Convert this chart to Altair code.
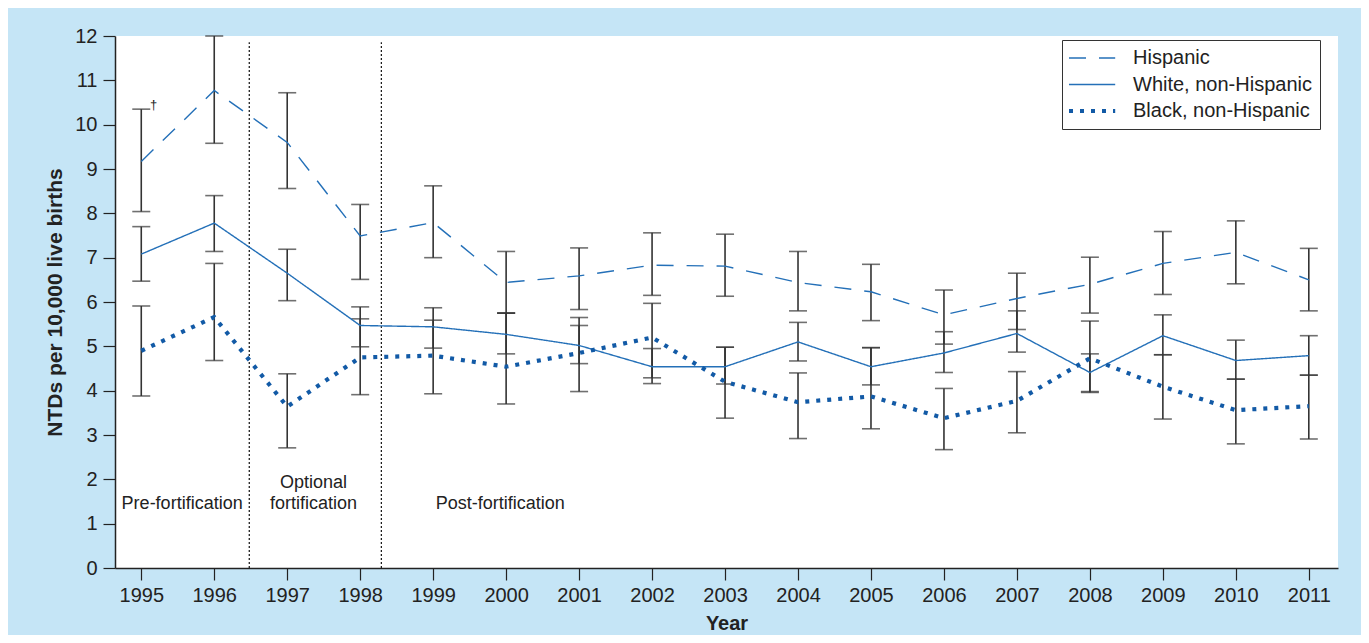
import altair as alt
import pandas as pd

years = list(range(1995, 2012))
groups = ["Hispanic", "White, non-Hispanic", "Black, non-Hispanic"]
line_widths = [1.4, 1.4, 4.2]

hisp = [9.17, 10.77, 9.60, 7.49, 7.79, 6.44, 6.59, 6.83, 6.81, 6.44, 6.23, 5.71, 6.08, 6.40, 6.87, 7.12, 6.50]
hisp_lo = [8.04, 9.58, 8.56, 6.51, 7.00, 5.75, 5.83, 6.15, 6.13, 5.80, 5.58, 5.05, 5.38, 5.75, 6.17, 6.41, 5.80]
hisp_hi = [10.35, 12.00, 10.72, 8.20, 8.62, 7.14, 7.22, 7.56, 7.53, 7.14, 6.85, 6.27, 6.65, 7.01, 7.59, 7.83, 7.21]

white = [7.08, 7.78, 6.65, 5.47, 5.44, 5.27, 5.02, 4.54, 4.54, 5.10, 4.54, 4.85, 5.29, 4.41, 5.24, 4.68, 4.79]
white_lo = [6.47, 7.14, 6.03, 4.99, 4.96, 4.83, 4.61, 4.16, 4.15, 4.67, 4.13, 4.41, 4.87, 3.98, 4.81, 4.26, 4.35]
white_hi = [7.70, 8.40, 7.19, 5.89, 5.87, 5.75, 5.47, 4.95, 4.98, 5.54, 4.97, 5.33, 5.80, 4.83, 5.71, 5.14, 5.24]

black = [4.90, 5.66, 3.64, 4.75, 4.79, 4.54, 4.85, 5.20, 4.20, 3.74, 3.87, 3.38, 3.77, 4.73, 4.09, 3.56, 3.65]
black_lo = [3.88, 4.68, 2.71, 3.91, 3.93, 3.70, 3.98, 4.29, 3.38, 2.92, 3.14, 2.67, 3.05, 3.96, 3.36, 2.80, 2.91]
black_hi = [5.91, 6.87, 4.38, 5.62, 5.59, 5.75, 5.65, 5.97, 4.98, 4.40, 4.97, 4.05, 4.43, 5.57, 4.81, 4.26, 4.35]

period_bounds = [1996.48, 1998.29]
region_x = [1995.56, 1997.36, 1997.36, 1999.92]
region_y = [1.44, 1.92, 1.44, 1.44]
region_text = ["Pre-fortification", "Optional", "fortification", "Post-fortification"]
dagger = {"year": [1995.17], "value": [10.45], "text": ["\u2020"]}

rows = []
for g, sw, vals, los, his in zip(groups, line_widths, [hisp, white, black], [hisp_lo, white_lo, black_lo], [hisp_hi, white_hi, black_hi]):
    for yr, v, lo, hi in zip(years, vals, los, his):
        rows.append({"year": yr, "group": g, "sw": sw, "value": v, "lo": lo, "hi": hi})
df = pd.DataFrame(rows)

vdf = pd.DataFrame({"year": period_bounds, "y0": [0, 0], "y1": [11.86, 11.86]})
rdf = pd.DataFrame({"year": region_x, "value": region_y, "text": region_text})
ddf = pd.DataFrame(dagger)

FONT = "Liberation Sans"
INK = "#222222"
BAR = "#333333"

x_scale = alt.Scale(domain=[1994.64, 2011.4], nice=False, zero=False)
y_scale = alt.Scale(domain=[0, 12], nice=False, zero=True)

x_axis = alt.Axis(
    values=years, format="d", title="Year", grid=False,
    labelFont=FONT, labelFontSize=20, labelColor=INK, labelPadding=5,
    labelFlush=False, labelOverlap=False,
    tickSize=12, tickColor=INK, tickWidth=1.2, domainColor=INK, domainWidth=1.5,
    titleFont=FONT, titleFontSize=20, titleFontWeight="bold", titleColor=INK,
    titleY=61, titleBaseline="alphabetic",
)
y_axis = alt.Axis(
    values=list(range(13)), title="NTDs per 10,000 live births", grid=False,
    labelFont=FONT, labelFontSize=20, labelColor=INK, labelPadding=6,
    tickSize=12, tickColor=INK, tickWidth=1.2, domainColor=INK, domainWidth=1.5,
    titleFont=FONT, titleFontSize=21, titleFontWeight="bold", titleColor=INK,
    titleX=-60, titleBaseline="middle",
)

X = alt.X("year:Q", scale=x_scale, axis=x_axis)
Xn = alt.X("year:Q", scale=x_scale)

legend = alt.Legend(
    title=None, orient="none", legendX=947, legendY=4,
    symbolType="M-1,0H3.2", symbolSize=484,
    symbolStrokeWidth={"expr": "datum.value === 'Black, non-Hispanic' ? 4.2 : 1.4"},
    labelFont=FONT, labelFontSize=20, labelColor=INK, labelOffset=43, labelLimit=400,
    padding=8, rowPadding=6.5, fillColor="white", strokeColor="#333333",
)

vlines = alt.Chart(vdf).mark_rule(color="#111111", strokeWidth=1.2, strokeDash=[2, 2]).encode(
    x=X, y=alt.Y("y0:Q", scale=y_scale, axis=y_axis), y2="y1:Q"
)

bars = alt.Chart(df).mark_rule(color=BAR, strokeWidth=1.6).encode(
    x=Xn, y=alt.Y("lo:Q", scale=y_scale), y2="hi:Q"
)
caps_lo = alt.Chart(df).mark_tick(orient="horizontal", size=18, thickness=1.6, color=BAR).encode(
    x=Xn, y=alt.Y("lo:Q", scale=y_scale)
)
caps_hi = alt.Chart(df).mark_tick(orient="horizontal", size=18, thickness=1.6, color=BAR).encode(
    x=Xn, y=alt.Y("hi:Q", scale=y_scale)
)

lines = alt.Chart(df).mark_line(strokeCap="butt", strokeJoin="miter").encode(
    x=Xn,
    y=alt.Y("value:Q", scale=y_scale),
    color=alt.Color("group:N", sort=groups, scale=alt.Scale(domain=groups, range=["#2470b8", "#2470b8", "#125aa6"]), legend=legend),
    strokeDash=alt.StrokeDash("group:N", sort=groups, scale=alt.Scale(domain=groups, range=[[17, 13], [1, 0], [4, 7]]), legend=legend),
    strokeWidth=alt.StrokeWidth("sw:Q", scale=None, legend=None),
)

regions = alt.Chart(rdf).mark_text(font=FONT, fontSize=18, color=INK, align="center", baseline="middle").encode(
    x=Xn, y=alt.Y("value:Q", scale=y_scale), text="text:N"
)
dag = alt.Chart(ddf).mark_text(font=FONT, fontSize=13, color=INK, align="center", baseline="middle").encode(
    x=Xn, y=alt.Y("value:Q", scale=y_scale), text="text:N"
)

chart = alt.layer(vlines, bars, caps_lo, caps_hi, lines, regions, dag).properties(
    width=1223, height=532,
    autosize=alt.AutoSizeParams(type="none"),
    padding={"left": 107, "top": 28, "right": 23, "bottom": 67},
    background="#c5e5f6",
).configure_view(fill="white", stroke=None)

chart.save("out.html", embed_options={"renderer": "svg", "actions": False})
